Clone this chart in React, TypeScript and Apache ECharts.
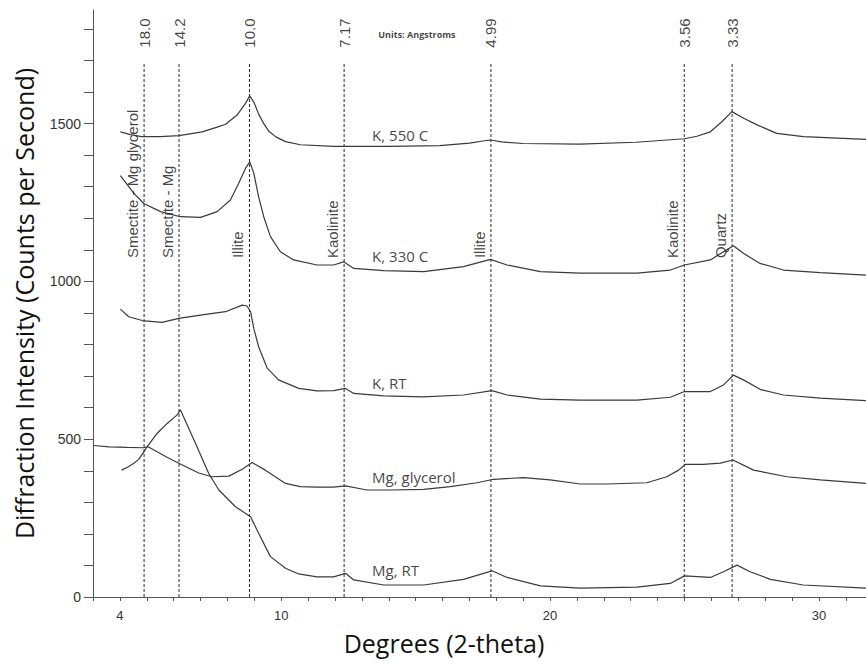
import { useEffect, useRef } from "react";
import * as echarts from "echarts";

// ---- data ----
const peakTwoTheta = [4.9, 6.2, 8.82, 12.34, 17.8, 24.99, 26.77];
const dSpacingLabels = ["18.0", "14.2", "10.0", "7.17", "4.99", "3.56", "3.33"];
const mineralLabels = ["Smectite - Mg glycerol", "Smectite - Mg", "Illite", "Kaolinite", "Illite", "Kaolinite", "Quartz"];
const sampleNames = ["K, 550 C", "K, 330 C", "K, RT", "Mg, glycerol", "Mg, RT"];
const xTickLabels = [4, 10, 20, 30];
const yTickLabels = [0, 500, 1000, 1500];

const k550 = [
  [4.02, 1474], [4.4, 1465], [4.8, 1459], [5.5, 1459], [6.2, 1462], [7.06, 1474], [7.62, 1489], [7.93, 1498],
  [8.36, 1527], [8.67, 1564], [8.83, 1588], [9.0, 1565], [9.16, 1530], [9.35, 1500], [9.54, 1476], [9.8, 1458],
  [10.16, 1443], [10.71, 1433], [11.95, 1428], [14.0, 1428], [15.9, 1430], [17.0, 1438], [17.5, 1445], [17.78, 1448],
  [18.2, 1442], [19.0, 1437], [21.1, 1435], [23.2, 1441], [25.0, 1452], [25.46, 1460], [25.96, 1474], [26.39, 1506],
  [26.76, 1538], [27.2, 1517], [27.7, 1496], [28.43, 1469], [29.42, 1459], [31.75, 1450],
];
const k330 = [
  [4.02, 1335], [4.52, 1279], [4.89, 1247], [5.51, 1221], [6.25, 1205], [7.0, 1203], [7.62, 1221], [8.11, 1258],
  [8.42, 1311], [8.67, 1358], [8.83, 1379], [8.98, 1343], [9.16, 1268], [9.35, 1205], [9.6, 1142], [9.97, 1094],
  [10.46, 1068], [11.33, 1052], [11.95, 1052], [12.32, 1062], [12.7, 1041], [13.81, 1034], [15.3, 1031], [16.78, 1047],
  [17.78, 1070], [18.4, 1052], [19.64, 1031], [21.12, 1026], [23.23, 1026], [24.47, 1036], [25.0, 1052], [25.96, 1068],
  [26.45, 1094], [26.82, 1113], [27.19, 1089], [27.81, 1057], [28.68, 1036], [30.05, 1028], [31.75, 1020],
];
const kRT = [
  [4.02, 912], [4.33, 888], [4.83, 876], [5.57, 870], [6.19, 883], [7.06, 894], [7.93, 904], [8.55, 925],
  [8.73, 922], [8.86, 904], [8.98, 851], [9.16, 793], [9.48, 725], [9.9, 688], [10.65, 661], [11.33, 653],
  [11.95, 654], [12.39, 661], [12.7, 645], [13.81, 637], [15.3, 634], [16.78, 640], [17.84, 654], [18.4, 640],
  [19.64, 627], [21.12, 624], [23.23, 624], [24.47, 633], [25.0, 651], [25.96, 651], [26.45, 672], [26.82, 703],
  [27.19, 688], [27.81, 658], [28.68, 640], [30.05, 630], [31.75, 622],
];
const mgGlycerol = [
  [3.03, 480], [3.6, 476], [4.27, 474], [4.87, 473], [5.05, 476], [5.7, 445], [6.19, 424], [6.93, 393],
  [7.43, 381], [8.05, 383], [8.55, 405], [8.92, 426], [9.41, 402], [10.16, 360], [10.71, 350], [11.33, 348],
  [11.95, 348], [12.39, 352], [13.19, 339], [14.06, 339], [15.3, 341], [16.29, 350], [17.28, 362], [17.9, 373],
  [19.0, 378], [20.0, 371], [21.12, 358], [22.11, 358], [23.6, 362], [24.34, 381], [24.78, 402], [25.03, 420],
  [25.7, 420], [26.33, 424], [26.8, 434], [27.57, 402], [28.81, 381], [30.05, 371], [31.75, 360],
];
const mgRT = [
  [4.06, 402], [4.3, 412], [4.52, 424], [4.7, 436], [4.89, 460], [5.01, 476], [5.39, 519], [5.76, 550],
  [6.13, 577], [6.25, 593], [6.81, 487], [7.3, 392], [7.68, 339], [8.3, 286], [8.86, 254], [9.16, 202],
  [9.6, 128], [10.16, 91], [10.65, 73], [11.33, 64], [11.95, 64], [12.39, 75], [12.7, 54], [13.81, 38],
  [15.3, 38], [16.78, 56], [17.84, 83], [18.4, 62], [19.64, 35], [21.12, 28], [23.23, 31], [24.47, 43],
  [25.0, 67], [25.96, 62], [26.45, 80], [26.95, 101], [27.44, 80], [28.19, 56], [29.42, 38], [31.75, 28],
];
const sampleSeries = [k550, k330, kRT, mgGlycerol, mgRT];

export default function App() {
  const ref = useRef<HTMLDivElement>(null);

  useEffect(() => {
    document.body.style.margin = "0";
    const chart = echarts.init(ref.current!, undefined, { renderer: "svg" });

    // layout anchors (in data units) for annotations
    const layout = {
      dashTop: 1695,
      dLabelY: 1787,
      mineralLabelY: 1074,
      mineralShift: 0.15,
      sampleLabelX: 13.38,
      sampleLabelY: [1464, 1081, 678, 381, 86],
      unitsX: 13.61,
      unitsY: 1781,
    };
    const curveColor = "#3a3a3a";

    const series: any[] = [];

    peakTwoTheta.forEach((x, i) => {
      series.push({
        type: "line",
        name: "d" + i,
        data: [[x, 0], [x, layout.dashTop]],
        showSymbol: false,
        silent: true,
        z: 1,
        lineStyle: { color: "#2a2a2a", width: 1, type: [3, 2] },
      });
    });

    sampleSeries.forEach((d, i) => {
      series.push({
        type: "line",
        name: sampleNames[i],
        data: d,
        showSymbol: false,
        z: 3,
        lineStyle: { color: curveColor, width: 1.2 },
      });
    });

    series.push({
      type: "scatter",
      symbolSize: 0,
      silent: true,
      z: 5,
      data: peakTwoTheta.map((x, i) => ({ value: [x, layout.dLabelY], name: dSpacingLabels[i] })),
      label: {
        show: true,
        position: "inside",
        rotate: 90,
        align: "center",
        verticalAlign: "middle",
        formatter: (p: any) => p.name,
        fontFamily: "Liberation Sans",
        fontSize: 15,
        color: "#111",
      },
    });

    series.push({
      type: "scatter",
      symbolSize: 0,
      silent: true,
      z: 5,
      data: peakTwoTheta.map((x, i) => ({ value: [x - layout.mineralShift, layout.mineralLabelY], name: mineralLabels[i] })),
      label: {
        show: true,
        position: "inside",
        rotate: 90,
        align: "left",
        verticalAlign: "bottom",
        formatter: (p: any) => p.name,
        fontFamily: "Liberation Sans",
        fontSize: 15,
        color: "#111",
      },
    });

    series.push({
      type: "scatter",
      symbolSize: 0,
      silent: true,
      z: 5,
      data: sampleNames.map((n, i) => ({ value: [layout.sampleLabelX, layout.sampleLabelY[i]], name: n })),
      label: {
        show: true,
        position: "inside",
        align: "left",
        verticalAlign: "middle",
        formatter: (p: any) => p.name,
        fontFamily: "Open Sans",
        fontSize: 15,
        color: "#111",
      },
    });

    series.push({
      type: "scatter",
      symbolSize: 0,
      silent: true,
      z: 5,
      data: [{ value: [layout.unitsX, layout.unitsY], name: "Units: Angstroms" }],
      label: {
        show: true,
        position: "inside",
        align: "left",
        verticalAlign: "middle",
        formatter: (p: any) => p.name,
        fontFamily: "Open Sans",
        fontWeight: "bold",
        fontSize: 9,
        color: "#111",
      },
    });

    chart.setOption({
      animation: false,
      grid: { left: 93, right: 0, top: 10, bottom: 67, containLabel: false, outerBoundsMode: "none" },
      xAxis: {
        type: "value",
        min: 3,
        max: 31.75,
        interval: 1,
        splitLine: { show: false },
        axisLine: { lineStyle: { color: "#555", width: 1 } },
        axisTick: { length: 4, lineStyle: { color: "#555" } },
        axisLabel: {
          margin: 12,
          fontFamily: "Liberation Sans",
          fontSize: 13,
          color: "#333",
          showMaxLabel: false,
          formatter: (v: number) => (xTickLabels.includes(v) ? String(v) : ""),
        },
      },
      yAxis: {
        type: "value",
        min: 0,
        max: 1860,
        interval: 100,
        splitLine: { show: false },
        axisLine: { show: true, lineStyle: { color: "#555", width: 1 } },
        axisTick: { show: true, length: 9, lineStyle: { color: "#555" } },
        axisLabel: {
          margin: 12,
          fontFamily: "Liberation Sans",
          fontSize: 14,
          color: "#333",
          showMaxLabel: false,
          formatter: (v: number) => (yTickLabels.includes(v) ? String(v) : ""),
        },
        name: "Diffraction Intensity (Counts per Second)",
        nameLocation: "middle",
        nameGap: 57,
        nameTextStyle: { fontFamily: "Open Sans", fontSize: 25, color: "#111" },
      },
      graphic: [
        {
          type: "text",
          x: 444,
          y: 643,
          style: {
            text: "Degrees (2-theta)",
            fontFamily: "Open Sans",
            fontSize: 25,
            fill: "#111",
            align: "center",
            verticalAlign: "middle",
          },
        },
      ],
      series,
    });

    return () => chart.dispose();
  }, []);

  return <div ref={ref} style={{ width: 866, height: 664 }} />;
}
